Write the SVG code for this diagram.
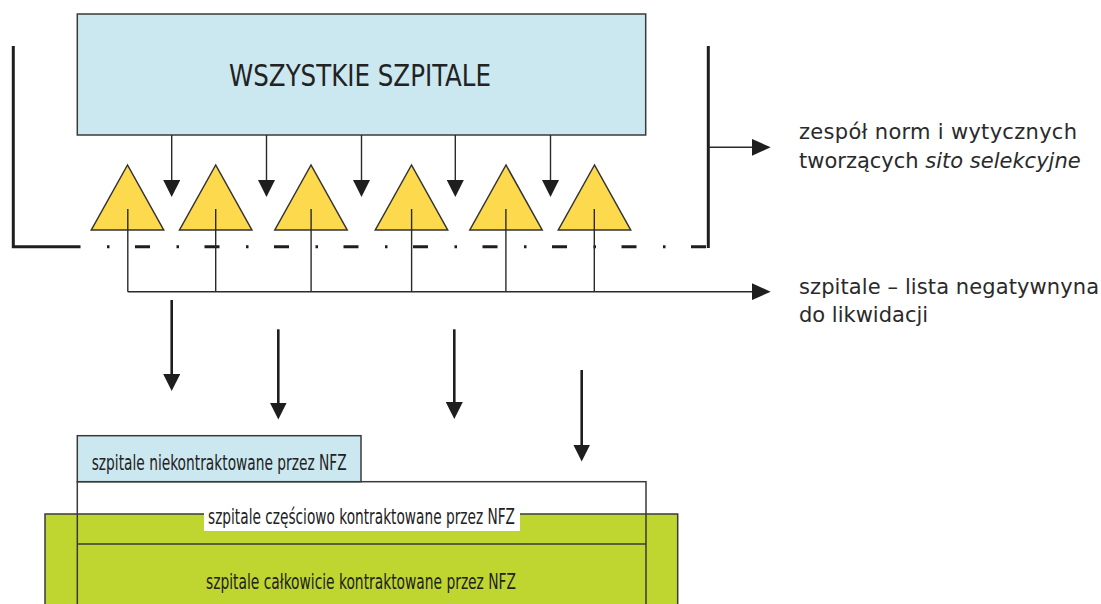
<svg xmlns="http://www.w3.org/2000/svg" width="1101" height="604" viewBox="0 0 1101 604">
<style>
.bg{fill:#ffffff}
.box{stroke:#3a3a3a;stroke-width:1.5}
.blue{fill:#cbe8f0}
.green{fill:#bfd630}
.tri{fill:#fcd94d;stroke:#333333;stroke-width:1.5;stroke-linejoin:miter}
.thin{stroke:#2a2a2a;stroke-width:1.4;fill:none}
.bold{stroke:#1e1e1e;stroke-width:2.6;fill:none}
.bracket{stroke:#1e1e1e;stroke-width:3;fill:none}
.dashdot{stroke:#1e1e1e;stroke-width:3;fill:none;stroke-dasharray:15 26.5 2.5 25.5;stroke-dashoffset:14.5}
.cond{font-family:"Liberation Sans Narrow","DejaVu Sans Condensed","Liberation Sans",sans-serif;fill:#222222}
.lbl{font-family:"DejaVu Sans","Liberation Sans",sans-serif;font-size:21px;fill:#2a2a2a}
</style>
<defs>
<marker id="ah" viewBox="0 0 17 17" refX="9" refY="8.5" markerWidth="17" markerHeight="17" markerUnits="userSpaceOnUse" orient="auto">
<path d="M0,0 L17,8.5 L0,17 Z" fill="#1e1e1e"/>
</marker>
<marker id="ahr" viewBox="0 0 19 17" refX="9" refY="8.5" markerWidth="19" markerHeight="17" markerUnits="userSpaceOnUse" orient="auto">
<path d="M0,0 L19,8.5 L0,17 Z" fill="#1e1e1e"/>
</marker>
</defs>
<rect class="bg" x="0" y="0" width="1101" height="604"/>

<g id="node-all-hospitals">
<rect class="box blue" x="77.3" y="14" width="568.4" height="121"/>
<text class="cond" x="360" y="86" font-size="30" text-anchor="middle" textLength="262" lengthAdjust="spacingAndGlyphs">WSZYSTKIE SZPITALE</text>
</g>

<g id="node-sieve-bracket">
<path class="bracket" d="M13.3,46 V246.7 H80"/>
<path class="bracket" d="M708.3,46 V248"/>
<line class="dashdot" x1="80" y1="246.7" x2="708" y2="246.7"/>
</g>

<g id="node-filter-1"><polygon class="tri" points="127.5,165 91.3,230 163.7,230"/></g>
<g id="node-filter-2"><polygon class="tri" points="215.7,165 179.5,230 251.9,230"/></g>
<g id="node-filter-3"><polygon class="tri" points="311,165 274.8,230 347.2,230"/></g>
<g id="node-filter-4"><polygon class="tri" points="411.5,165 375.3,230 447.7,230"/></g>
<g id="node-filter-5"><polygon class="tri" points="506,165 469.8,230 542.2,230"/></g>
<g id="node-filter-6"><polygon class="tri" points="594.5,165 558.3,230 630.7,230"/></g>

<g id="node-label-sieve">
<text class="lbl" x="799" y="139" textLength="278">zespół norm i wytycznych</text>
<text class="lbl" x="799" y="168">tworzących <tspan font-style="italic">sito selekcyjne</tspan></text>
</g>

<g id="node-label-negative">
<text class="lbl" x="799" y="294" textLength="300">szpitale – lista negatywnyna</text>
<text class="lbl" x="799" y="322">do likwidacji</text>
</g>

<g id="node-bottom-stack">
<rect class="bg" x="77.3" y="481.7" width="568.7" height="130"/>
<rect class="box green" x="45" y="514" width="632.7" height="100"/>
<rect class="box" fill="none" x="77.3" y="481.7" width="568.7" height="130"/>
<line class="box" x1="77.3" y1="544" x2="646" y2="544"/>
</g>

<g id="node-uncontracted">
<rect class="box blue" x="77.3" y="435.7" width="283.7" height="46"/>
<text class="cond" x="219.2" y="469.5" font-size="22" text-anchor="middle" textLength="255" lengthAdjust="spacingAndGlyphs">szpitale niekontraktowane przez NFZ</text>
</g>

<g id="node-partially-contracted">
<rect class="bg" x="204" y="512.8" width="316" height="18.2"/>
<text class="cond" x="361.5" y="524" font-size="22" text-anchor="middle" textLength="307" lengthAdjust="spacingAndGlyphs">szpitale częściowo kontraktowane przez NFZ</text>
</g>

<g id="node-fully-contracted">
<text class="cond" x="361" y="589" font-size="22" text-anchor="middle" textLength="310" lengthAdjust="spacingAndGlyphs">szpitale całkowicie kontraktowane przez NFZ</text>
</g>

<g id="connectors">
<line class="thin" x1="171.7" y1="135" x2="171.7" y2="189" marker-end="url(#ah)"/>
<line class="thin" x1="266.5" y1="135" x2="266.5" y2="189" marker-end="url(#ah)"/>
<line class="thin" x1="361.5" y1="135" x2="361.5" y2="189" marker-end="url(#ah)"/>
<line class="thin" x1="455.3" y1="135" x2="455.3" y2="189" marker-end="url(#ah)"/>
<line class="thin" x1="550.5" y1="135" x2="550.5" y2="189" marker-end="url(#ah)"/>

<line class="thin" x1="127.8" y1="209" x2="127.8" y2="291.7"/>
<line class="thin" x1="215.7" y1="209" x2="215.7" y2="291.7"/>
<line class="thin" x1="311.1" y1="209" x2="311.1" y2="291.7"/>
<line class="thin" x1="411.6" y1="209" x2="411.6" y2="291.7"/>
<line class="thin" x1="505.9" y1="209" x2="505.9" y2="291.7"/>
<line class="thin" x1="594.3" y1="209" x2="594.3" y2="291.7"/>
<line class="thin" x1="127.8" y1="291.7" x2="760.7" y2="291.7" marker-end="url(#ahr)"/>

<line class="thin" x1="708.3" y1="147.3" x2="760.7" y2="147.3" marker-end="url(#ahr)"/>

<line class="bold" x1="171.7" y1="300" x2="171.7" y2="383" marker-end="url(#ah)"/>
<line class="bold" x1="278.3" y1="329.3" x2="278.3" y2="411.5" marker-end="url(#ah)"/>
<line class="bold" x1="454.3" y1="329.3" x2="454.3" y2="411" marker-end="url(#ah)"/>
<line class="bold" x1="581.7" y1="370" x2="581.7" y2="453.5" marker-end="url(#ah)"/>
</g>
</svg>
